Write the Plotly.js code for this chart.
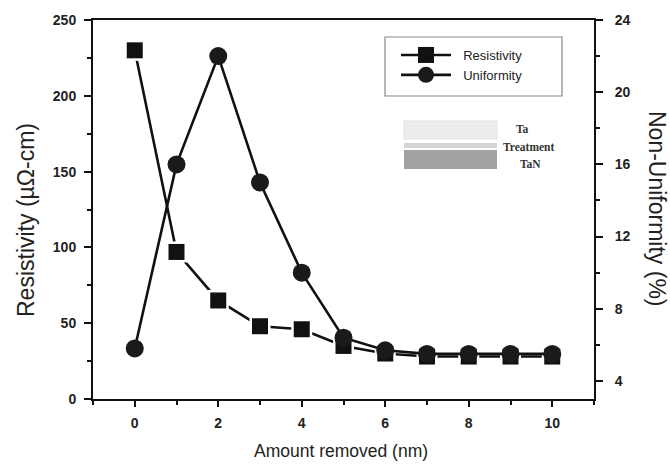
<!DOCTYPE html>
<html>
<head>
<meta charset="utf-8">
<script src="https://cdn.plot.ly/plotly-3.0.1.min.js"></script>
<style>html,body{margin:0;padding:0;background:#fff;}#chart{width:670px;height:466px;}</style>
</head>
<body>
<div id="chart"></div>
<script>
// ---- data ----
const amountRemoved = [0, 1, 2, 3, 4, 5, 6, 7, 8, 9, 10];
const resistivity = [230, 97, 65, 48, 46, 35, 30, 28, 28, 28, 28];
const nonUniformity = [5.8, 16.0, 22.0, 15.0, 10.0, 6.4, 5.7, 5.5, 5.5, 5.5, 5.5];
const xTicks = [0, 2, 4, 6, 8, 10];
const yTicks = [0, 50, 100, 150, 200, 250];
const y2Ticks = [4, 8, 12, 16, 20, 24];
const insetLabels = ["Ta", "Treatment", "TaN"];

// ---- geometry helpers (plot area in pixels) ----
const W = 670, H = 466;
const L = 93, R = 594, T = 20, B = 399;
const px = x => (x - L) / (R - L);
const py = y => (B - y) / (B - T);

const ink = '#111';
const tickFont = {family: 'Liberation Sans, Arial, sans-serif', size: 14, color: '#222', weight: 'bold'};
const yTitleFont = {family: 'Liberation Sans, Arial, sans-serif', size: 23, color: '#222'};
const xTitleFont = {family: 'Liberation Sans, Arial, sans-serif', size: 17.5, color: '#222'};
const insetFont = {family: 'Liberation Serif, serif', size: 11.5, color: '#333', weight: 'bold'};

const traces = [
  {x: amountRemoved, y: resistivity, name: '\u00a0\u00a0Resistivity', mode: 'lines+markers',
   line: {color: ink, width: 2.6}, marker: {symbol: 'square', size: 16, color: ink}, yaxis: 'y'},
  // white halos to open small gaps between the resistivity line and its symbols
  {x: amountRemoved, y: resistivity, mode: 'markers', showlegend: false, hoverinfo: 'skip',
   marker: {symbol: 'square', size: 21, color: '#fff'}, yaxis: 'y'},
  {x: amountRemoved, y: resistivity, mode: 'markers', showlegend: false,
   marker: {symbol: 'square', size: 16, color: ink}, yaxis: 'y'},
  {x: amountRemoved, y: nonUniformity, name: '\u00a0\u00a0Uniformity', mode: 'lines+markers',
   line: {color: ink, width: 2.6}, marker: {symbol: 'circle', size: 18, color: '#1a1a1a'}, yaxis: 'y2'}
];

const axisCommon = {
  showline: true, linecolor: ink, linewidth: 2, showgrid: false, zeroline: false,
  ticks: 'outside', tickcolor: ink, tickwidth: 2, ticklen: 7, tickfont: tickFont
};

const layout = {
  width: W, height: H,
  margin: {l: L, r: W - R, t: T, b: H - B, pad: 0},
  paper_bgcolor: '#fff', plot_bgcolor: '#fff',
  showlegend: true,
  xaxis: Object.assign({}, axisCommon, {
    range: [-1, 11], tickvals: xTicks, ticklen: 6, mirror: true, ticklabelstandoff: 4,
    minor: {dtick: 1, tick0: 0, ticks: 'outside', ticklen: 4, tickwidth: 2, tickcolor: ink}
  }),
  yaxis: Object.assign({}, axisCommon, {
    range: [0, 250], tickvals: yTicks, ticklabelstandoff: 5,
    minor: {dtick: 25, tick0: 0, ticks: 'outside', ticklen: 4, tickwidth: 2, tickcolor: ink}
  }),
  yaxis2: Object.assign({}, axisCommon, {
    range: [3, 24], tickvals: y2Ticks, overlaying: 'y', side: 'right', ticklabelstandoff: 9,
    minor: {dtick: 2, tick0: 0, ticks: 'outside', ticklen: 4, tickwidth: 2, tickcolor: ink}
  }),
  legend: {
    x: px(396), y: py(40), xanchor: 'left', yanchor: 'top',
    bgcolor: 'rgba(0,0,0,0)', borderwidth: 0, itemwidth: 50,
    font: {family: 'Liberation Sans, Arial, sans-serif', size: 13, color: '#222'},
    tracegroupgap: 0
  },
  shapes: [
    {type: 'rect', xref: 'paper', yref: 'paper', x0: px(385), x1: px(562), y0: py(37), y1: py(96),
     line: {color: '#888', width: 1.2}, fillcolor: 'rgba(0,0,0,0)'},
    {type: 'rect', xref: 'paper', yref: 'paper', x0: px(404), x1: px(497), y0: py(121), y1: py(139),
     line: {color: '#e2e2e2', width: 1}, fillcolor: '#ededed'},
    {type: 'rect', xref: 'paper', yref: 'paper', x0: px(404), x1: px(497), y0: py(143), y1: py(148),
     line: {width: 0}, fillcolor: '#d6d6d6'},
    {type: 'rect', xref: 'paper', yref: 'paper', x0: px(404), x1: px(497), y0: py(150), y1: py(169),
     line: {width: 0}, fillcolor: '#a2a2a2'}
  ],
  annotations: [
    {text: 'Resistivity (\u00b5\u03a9-cm)', xref: 'paper', yref: 'paper', x: px(26), y: py(220),
     textangle: -90, showarrow: false, font: yTitleFont, xanchor: 'center', yanchor: 'middle'},
    {text: 'Non-Uniformity (%)', xref: 'paper', yref: 'paper', x: px(657), y: py(209),
     textangle: 90, showarrow: false, font: yTitleFont, xanchor: 'center', yanchor: 'middle'},
    {text: 'Amount removed (nm)', xref: 'paper', yref: 'paper', x: px(341), y: py(451),
     showarrow: false, font: xTitleFont, xanchor: 'center', yanchor: 'middle'},
    {text: insetLabels[0], xref: 'paper', yref: 'paper', x: px(522), y: py(129), showarrow: false,
     xanchor: 'center', yanchor: 'middle', font: insetFont},
    {text: insetLabels[1], xref: 'paper', yref: 'paper', x: px(528), y: py(147), showarrow: false,
     xanchor: 'center', yanchor: 'middle', font: insetFont},
    {text: insetLabels[2], xref: 'paper', yref: 'paper', x: px(530), y: py(164), showarrow: false,
     xanchor: 'center', yanchor: 'middle', font: insetFont}
  ]
};

Plotly.newPlot('chart', traces, layout, {staticPlot: true, displayModeBar: false});
</script>
</body>
</html>
